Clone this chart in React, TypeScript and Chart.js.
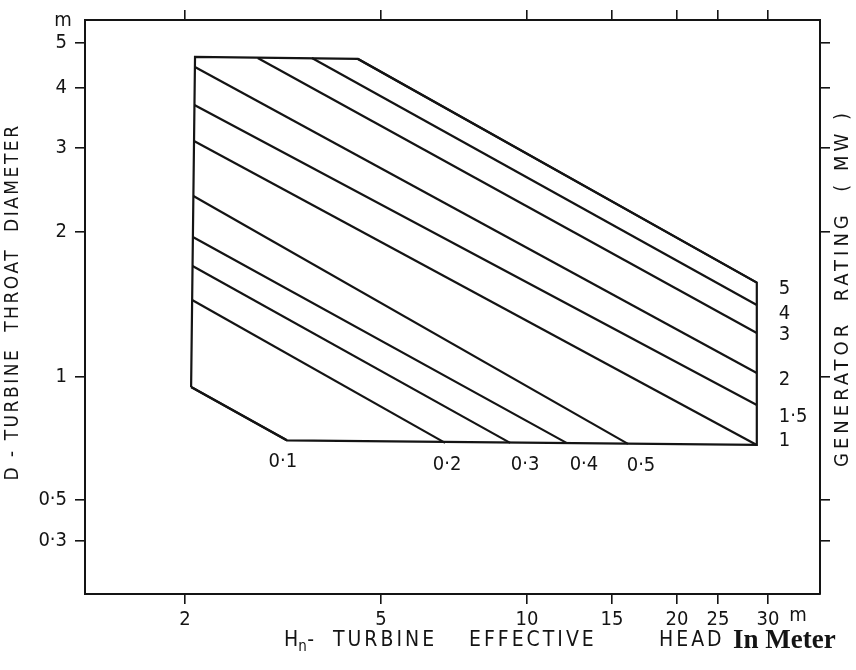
import React, { useEffect, useRef } from "react";
import { Chart, registerables, LogarithmicScale } from "chart.js";

// ---------------- data ----------------
// H – turbine effective head (m), D – turbine throat diameter (m)
const HEAD_TICKS = [2, 5, 10, 15, 20, 25, 30];
const HEAD_TICK_LABELS = ["2", "5", "10", "15", "20", "25", "30"];
const DIAM_TICKS = [0.3, 0.5, 1, 2, 3, 4, 5];
const DIAM_TICK_LABELS = ["0·3", "0·5", "1", "2", "3", "4", "5"];

// outline of the application field
const outlineHead = [2.058, 2.096, 4.49, 28.8, 28.8, 3.22, 2.058];
const outlineDiam = [0.945, 4.665, 4.62, 1.57, 0.682, 0.7, 0.945];

// generator rating lines (MW)
const ratingLabels = ["0·1", "0·2", "0·3", "0·4", "0·5", "1", "1·5", "2", "3", "4", "5"];
const ratingStartHead = [2.058, 2.068, 2.072, 2.075, 2.08, 2.086, 2.09, 2.095, 2.81, 3.62, 4.49];
const ratingStartDiam = [0.945, 1.445, 1.7, 1.953, 2.379, 3.102, 3.687, 4.438, 4.64, 4.64, 4.62];
const ratingEndHead = [3.22, 6.78, 9.23, 12.1, 16.1, 28.8, 28.8, 28.8, 28.8, 28.8, 28.8];
const ratingEndDiam = [0.7, 0.69, 0.69, 0.689, 0.686, 0.682, 0.854, 1.019, 1.234, 1.411, 1.57];

// hand-drawn axis calibration: tick value -> fraction of axis length
const CALIBRATION: Record<string, { values: number[]; decimals: number[] }> = {
  head: {
    values: [2, 5, 10, 15, 20, 25, 30],
    decimals: [0.13605, 0.40272, 0.60136, 0.71701, 0.80544, 0.86122, 0.92925],
  },
  diam: {
    values: [0.3, 0.5, 1, 2, 3, 4, 5],
    decimals: [0.09233, 0.16376, 0.37805, 0.63066, 0.777, 0.88153, 0.95993],
  },
};

const INK = "#141414";
const SANS = '"DejaVu Sans Condensed", "DejaVu Sans", sans-serif';

class CalibratedLogScale extends (LogarithmicScale as any) {
  static id = "calibratedLog";
  static defaults = { ...(LogarithmicScale as any).defaults };

  cal() {
    return CALIBRATION[(this as any).options.calibration];
  }
  decimalFor(value: number) {
    const { values, decimals } = this.cal();
    const L = values.map((v) => Math.log10(v));
    const lv = Math.log10(value);
    let i = 0;
    while (i < L.length - 2 && lv > L[i + 1]) i++;
    return decimals[i] + ((lv - L[i]) * (decimals[i + 1] - decimals[i])) / (L[i + 1] - L[i]);
  }
  getPixelForValue(value: number) {
    if (value === null || value === undefined || isNaN(value) || value <= 0) return NaN;
    return (this as any).getPixelForDecimal(this.decimalFor(value));
  }
  getValueForPixel(pixel: number) {
    const d = (this as any).getDecimalForPixel(pixel);
    const { values, decimals } = this.cal();
    const L = values.map((v) => Math.log10(v));
    let i = 0;
    while (i < decimals.length - 2 && d > decimals[i + 1]) i++;
    const lv = L[i] + ((d - decimals[i]) * (L[i + 1] - L[i])) / (decimals[i + 1] - decimals[i]);
    return Math.pow(10, lv);
  }
}

Chart.register(...registerables, CalibratedLogScale as any);

const RIGHT_NUDGE: Record<string, number> = { "5": 6, "4": 9, "3": 2, "2": 7, "1·5": 12, "1": -4 };
const BOTTOM_NUDGE: Record<string, number> = { "0·1": -4, "0·2": 2, "0·3": 15, "0·4": 17, "0·5": 13 };

function rotatedText(ctx: CanvasRenderingContext2D, text: string, cx: number, cy: number, font: string, spacing: string) {
  ctx.save();
  ctx.translate(cx, cy);
  ctx.rotate(-Math.PI / 2);
  ctx.font = font;
  (ctx as any).letterSpacing = spacing;
  ctx.textAlign = "center";
  ctx.textBaseline = "middle";
  ctx.fillText(text, 0, 0);
  ctx.restore();
}

const textPlugin = {
  id: "nomogramText",
  afterDraw(chart: any) {
    const ctx: CanvasRenderingContext2D = chart.ctx;
    const xs = chart.scales.x;
    const ys = chart.scales.y;
    ctx.save();
    ctx.fillStyle = INK;

    // rating labels
    ctx.font = `20px ${SANS}`;
    ratingLabels.forEach((lab, i) => {
      const px = xs.getPixelForValue(ratingEndHead[i]);
      const py = ys.getPixelForValue(ratingEndDiam[i]);
      if (ratingEndHead[i] > 25) {
        ctx.textAlign = "left";
        ctx.textBaseline = "middle";
        ctx.fillText(lab, px + 22, py + (RIGHT_NUDGE[lab] || 0));
      } else {
        ctx.textAlign = "center";
        ctx.textBaseline = "middle";
        ctx.fillText(lab, px + (BOTTOM_NUDGE[lab] || 0), py + 22);
      }
    });

    // unit labels
    ctx.font = `20px ${SANS}`;
    ctx.textAlign = "center";
    ctx.textBaseline = "middle";
    ctx.fillText("m", 63, 21);
    ctx.fillText("m", 798, 616);

    // bottom title
    ctx.textAlign = "left";
    ctx.textBaseline = "alphabetic";
    ctx.font = `21px ${SANS}`;
    (ctx as any).letterSpacing = "0px";
    ctx.fillText("H", 284, 646);
    const hw = ctx.measureText("H").width;
    ctx.font = `15px ${SANS}`;
    ctx.fillText("n", 284 + hw, 651);
    ctx.font = `21px ${SANS}`;
    ctx.fillText("-", 284 + hw + 9, 646);
    (ctx as any).letterSpacing = "3px";
    ctx.fillText("TURBINE", 333, 646);
    ctx.fillText("EFFECTIVE", 469, 646);
    ctx.fillText("HEAD", 659, 646);
    (ctx as any).letterSpacing = "0px";
    ctx.font = 'bold 27px "Liberation Serif", "Times New Roman", serif';
    ctx.fillText("In Meter", 733, 648);

    // side titles
    rotatedText(ctx, "D - TURBINE  THROAT  DIAMETER", 13, 302, `19px ${SANS}`, "2.5px");
    rotatedText(ctx, "GENERATOR  RATING  ( MW )", 843, 288, `20px ${SANS}`, "4px");

    ctx.restore();
  },
};

const axisCommon = (calibration: string, min: number, max: number, ticks: number[]) => ({
  type: "calibratedLog",
  calibration,
  min,
  max,
  afterBuildTicks: (s: any) => {
    s.ticks = ticks.map((v) => ({ value: v }));
  },
  grid: { drawOnChartArea: false, drawTicks: true, tickLength: 10, color: INK, lineWidth: 1.6 },
  border: { display: true, color: INK, width: 2 },
});

export default function App() {
  const ref = useRef<HTMLCanvasElement>(null);

  useEffect(() => {
    if (!ref.current) return;
    const lineStyle = {
      showLine: true,
      borderColor: INK,
      backgroundColor: INK,
      borderWidth: 2.2,
      pointRadius: 0,
      fill: false,
      tension: 0,
    };
    const datasets: any[] = [
      {
        label: "outline",
        data: outlineHead.map((h, i) => ({ x: h, y: outlineDiam[i] })),
        ...lineStyle,
      },
      ...ratingLabels.map((lab, i) => ({
        label: `${lab} MW`,
        data: [
          { x: ratingStartHead[i], y: ratingStartDiam[i] },
          { x: ratingEndHead[i], y: ratingEndDiam[i] },
        ],
        ...lineStyle,
      })),
    ];

    const chart = new Chart(ref.current, {
      type: "scatter",
      data: { datasets },
      options: {
        responsive: false,
        animation: false,
        layout: { padding: 0 },
        plugins: { legend: { display: false }, tooltip: { enabled: false } },
        events: [],
        scales: {
          x: {
            ...axisCommon("head", 1.25, 36, HEAD_TICKS),
            position: "bottom",
            afterFit: (s: any) => {
              s.height = 76;
            },
            ticks: {
              autoSkip: false,
              maxRotation: 0,
              minRotation: 0,
              padding: 4,
              color: INK,
              font: { family: SANS, size: 20 },
              callback: (_v: any, i: number) => HEAD_TICK_LABELS[i],
            },
          },
          xTop: {
            ...axisCommon("head", 1.25, 36, HEAD_TICKS),
            position: "top",
            afterFit: (s: any) => {
              s.height = 20;
            },
            ticks: { display: false },
          },
          y: {
            ...axisCommon("diam", 0.15, 5.6, DIAM_TICKS),
            position: "left",
            afterFit: (s: any) => {
              s.width = 85;
            },
            ticks: {
              autoSkip: false,
              padding: 8,
              color: INK,
              font: { family: SANS, size: 20 },
              callback: (_v: any, i: number) => DIAM_TICK_LABELS[i],
            },
          },
          yRight: {
            ...axisCommon("diam", 0.15, 5.6, DIAM_TICKS),
            position: "right",
            afterFit: (s: any) => {
              s.width = 36;
            },
            ticks: { display: false },
          },
        },
      } as any,
      plugins: [textPlugin as any],
    });
    return () => chart.destroy();
  }, []);

  return (
    <div style={{ position: "absolute", left: 0, top: 0, width: 856, height: 670, background: "#fff" }}>
      <canvas ref={ref} width={856} height={670} style={{ display: "block", width: 856, height: 670 }} />
    </div>
  );
}
